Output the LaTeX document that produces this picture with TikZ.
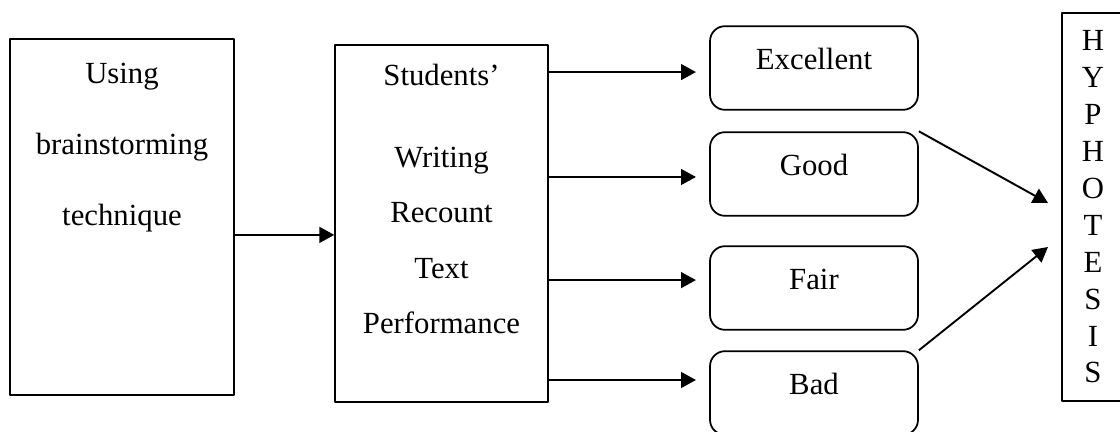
\documentclass[tikz,border=0pt]{standalone}
\usepackage{fontspec}
\setmainfont{Liberation Serif}
\usetikzlibrary{arrows.meta}
\begin{document}
\begin{tikzpicture}[x=0.02cm,y=-0.02cm,line join=round,>={Triangle[length=8.5pt,width=9pt]},
		font=\fontsize{17.5pt}{21pt}\selectfont,
		box/.style={draw,line width=0.85pt,inner sep=0pt},
		grade/.style={draw,line width=1pt,rounded corners=8.5pt,minimum width=4.16cm,inner sep=0pt,text height=24.4pt,text depth=23.2pt},
		arr/.style={->,line width=1.1pt}]
		\useasboundingbox (0,0) rectangle (1120,432);
		% left and middle boxes
		\node[box,minimum width=4.48cm,minimum height=7.12cm] (tech) at (122,217) {};
		\node[align=center,font=\fontsize{17.5pt}{40.25pt}\selectfont] (techtxt) at (122,147.7) {Using\\brainstorming\\technique};
		\node[box,minimum width=4.26cm,minimum height=7.14cm] (stud) at (441.5,223.5) {};
		\node[align=center,font=\fontsize{17.5pt}{31.5pt}\selectfont] (studtxt) at (441.5,199) {Students’\\[15pt]Writing\\Recount\\Text\\Performance};
		% grades
		\node[grade] (exc) at (814,68) {Excellent};
		\node[grade] (good) at (814,174) {Good};
		\node[grade] (fair) at (814,288) {Fair};
		\node[grade] (bad) at (814,393) {Bad};
		% hypothesis
		\node[box,minimum width=1.24cm,minimum height=7.76cm,align=center,font=\fontsize{17.5pt}{21pt}\selectfont] (hyp) at (1093,207) {H\\Y\\P\\H\\O\\T\\E\\S\\I\\S};
		\coordinate (hin1) at (1048,203);
		\coordinate (hin2) at (1048,247);
		% arrows
		\draw[arr] ([yshift=-10.2pt]tech.east) coordinate (t0) -- (stud.west |- t0);
		\draw[arr,shorten >=7.5pt] ([yshift=-2.3pt]exc.west -| stud.east) -- ([yshift=-2.3pt]exc.west);
		\draw[arr,shorten >=7.5pt] ([yshift=-1.7pt]good.west -| stud.east) -- ([yshift=-1.7pt]good.west);
		\draw[arr,shorten >=7.5pt] ([yshift=4.5pt]fair.west -| stud.east) -- ([yshift=4.5pt]fair.west);
		\draw[arr,shorten >=7.5pt] ([yshift=7.4pt]bad.west -| stud.east) -- ([yshift=7.4pt]bad.west);
		\draw[arr] (good.north east) -- (hin1);
		\draw[arr] (bad.north east) -- (hin2);
\end{tikzpicture}
\end{document}
